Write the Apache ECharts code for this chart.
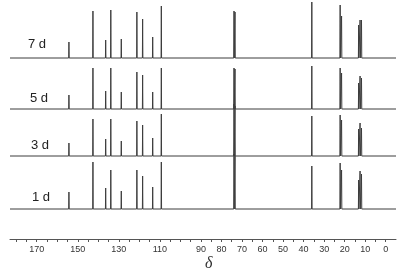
<!DOCTYPE html>
<html><head><meta charset="utf-8">
<script src="https://cdn.jsdelivr.net/npm/echarts@6/dist/echarts.min.js"></script>
<style>html,body{margin:0;padding:0;background:#fff}#c{width:399px;height:277px}</style>
</head><body><div id="c"></div>
<script>
// chemical shifts of peaks (ppm)
var shifts = [154.3, 142.6, 136.4, 133.9, 128.8, 121.2, 118.4, 113.5, 109.3, 73.9, 73.4, 36.0, 22.2, 21.5, 13.2, 12.5, 11.8];
// trace labels (top to bottom)
var traceNames = ['7 d', '5 d', '3 d', '1 d'];
// vertical offsets of each trace baseline
var offsets = [181, 130, 83, 30];
// peak intensities per trace
var h7 = [16, 47, 18, 48, 19, 46, 39, 21, 52, 47, 46, 56, 53, 42, 33, 38, 38];
var h5 = [14, 41, 18, 41, 17, 37, 34, 17, 41, 41, 40, 43, 41, 36, 26, 33, 31];
var h3 = [13, 37, 17, 37, 15, 35, 31, 18, 42, 52, 50, 40, 41, 36, 27, 33, 28];
var h1 = [17, 47, 21, 39, 18, 39, 33, 22, 47, 55, 53, 43, 46, 39, 29, 38, 35];
var heights = [h7, h5, h3, h1];
// axis
var xMin = -5, xMax = 183;
var tickLabels = [0, 10, 20, 30, 40, 50, 60, 70, 80, 90, 110, 130, 150, 170];
var tickVals = [];
for (var t = 0; t <= 180; t += 5) tickVals.push(t);

function buildTrace(base, hs) {
  var d = [[xMax, base]];
  for (var i = 0; i < shifts.length; i++) {
    d.push([shifts[i] + 0.12, base]);
    d.push([shifts[i], base + hs[i]]);
    d.push([shifts[i] - 0.12, base]);
  }
  d.push([xMin, base]);
  return d;
}

var series = [];
for (var k = 0; k < 4; k++) {
  series.push({
    type: 'line', name: traceNames[k], showSymbol: false, symbol: 'none',
    data: buildTrace(offsets[k], heights[k]),
    lineStyle: { color: '#3c3c3c', width: 1 },
    animation: false, z: 2
  });
}

var chart = echarts.init(document.getElementById('c'));
chart.setOption({
  animation: false,
  grid: { left: 10, right: 3, top: 0, bottom: 38 },
  xAxis: [{
    type: 'value', inverse: true, min: xMin, max: xMax,
    splitLine: { show: false },
    axisLine: { lineStyle: { color: '#555', width: 1 } },
    axisTick: { show: true, customValues: tickVals, length: 3, inside: false, lineStyle: { color: '#555' } },
    axisLabel: { customValues: tickLabels, fontSize: 9, color: '#333', margin: 6, fontFamily: 'Liberation Sans, Arial, sans-serif' }
  }],
  yAxis: { type: 'value', min: 0, max: 239, show: false },
  graphic: [
    { type: 'text', left: 28, top: 38, style: { text: traceNames[0], font: '13px "Liberation Sans", Arial, sans-serif', fill: '#222' } },
    { type: 'text', left: 30, top: 92, style: { text: traceNames[1], font: '13px "Liberation Sans", Arial, sans-serif', fill: '#222' } },
    { type: 'text', left: 31, top: 139, style: { text: traceNames[2], font: '13px "Liberation Sans", Arial, sans-serif', fill: '#222' } },
    { type: 'text', left: 32, top: 191, style: { text: traceNames[3], font: '13px "Liberation Sans", Arial, sans-serif', fill: '#222' } },
    { type: 'text', left: 205, top: 256, style: { text: 'δ', font: 'italic 16px "Liberation Serif", "Times New Roman", serif', fill: '#333' } }
  ],
  series: series
});
</script>
</body></html>
